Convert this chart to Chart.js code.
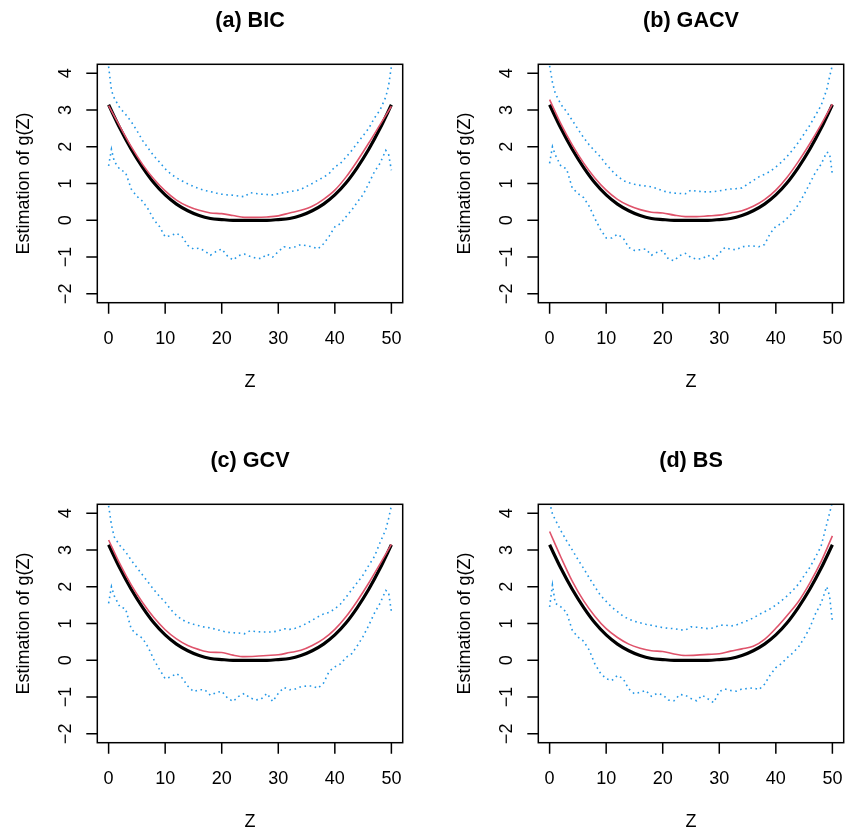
<!DOCTYPE html>
<html>
<head>
<meta charset="utf-8">
<script src="https://cdn.jsdelivr.net/npm/chart.js@4.4.1/dist/chart.umd.min.js"></script>
<style>
  body { margin: 0; background: #fff; width: 850px; height: 829px; overflow: hidden; position: relative; }
  .panel { position: absolute; width: 409px; height: 389px; }
</style>
</head>
<body>
<div class="panel" style="left:0;top:0"><canvas id="pa" width="409" height="389"></canvas></div>
<div class="panel" style="left:441px;top:0"><canvas id="pb" width="409" height="389"></canvas></div>
<div class="panel" style="left:0;top:440px"><canvas id="pc" width="409" height="389"></canvas></div>
<div class="panel" style="left:441px;top:440px"><canvas id="pd" width="409" height="389"></canvas></div>
<script>
// tick labels
const xTicks = [0, 10, 20, 30, 40, 50];
const yTicks = [-2, -1, 0, 1, 2, 3, 4];
const titles = ["(a) BIC", "(b) GACV", "(c) GCV", "(d) BS"];

// smooth curves: true g(Z) and the estimates
const zSmooth = [0, 2, 4, 6, 8, 10, 12, 14, 16, 18, 20, 22, 24, 26, 28, 30, 32, 34, 36, 38, 40, 42, 44, 46, 48, 50];
const gTrue = [3.14, 2.50, 1.93, 1.44, 1.02, 0.69, 0.44, 0.26, 0.13, 0.05, 0.02, 0.00, 0.00,
               0.00, 0.00, 0.02, 0.05, 0.13, 0.26, 0.44, 0.69, 1.02, 1.44, 1.93, 2.50, 3.14];
const estA = [3.12, 2.55, 2.00, 1.52, 1.12, 0.80, 0.55, 0.38, 0.27, 0.20, 0.18, 0.13, 0.08,
              0.08, 0.09, 0.12, 0.20, 0.27, 0.38, 0.57, 0.82, 1.18, 1.62, 2.10, 2.60, 3.10];
const estB = [3.28, 2.62, 2.05, 1.56, 1.15, 0.82, 0.57, 0.40, 0.29, 0.22, 0.20, 0.14, 0.10,
              0.10, 0.12, 0.14, 0.20, 0.26, 0.38, 0.56, 0.82, 1.17, 1.60, 2.08, 2.60, 3.16];
const estC = [3.27, 2.62, 2.05, 1.57, 1.16, 0.83, 0.58, 0.40, 0.29, 0.22, 0.21, 0.14, 0.10,
              0.11, 0.13, 0.15, 0.21, 0.27, 0.40, 0.58, 0.84, 1.19, 1.62, 2.10, 2.62, 3.15];
const estD = [3.50, 2.80, 2.15, 1.62, 1.20, 0.86, 0.62, 0.44, 0.33, 0.26, 0.24, 0.17, 0.13,
              0.14, 0.16, 0.18, 0.25, 0.31, 0.38, 0.57, 0.87, 1.22, 1.60, 2.10, 2.68, 3.38];

// pointwise bands
const zBand = [0, 0.5, 1, 2, 3, 4, 5, 6, 7, 8,
               9, 10, 11, 12, 13, 14, 15, 16, 17, 18,
               19, 20, 21, 22, 23, 24, 25, 26, 27, 28,
               29, 30, 31, 32, 33, 34, 35, 36, 37, 38,
               39, 40, 41, 42, 43, 44, 45, 46, 47, 48,
               49, 49.5, 50];
const upA = [4.18, 3.53, 3.32, 3.05, 2.88, 2.68, 2.44, 2.17, 1.96, 1.75,
             1.58, 1.40, 1.26, 1.15, 1.07, 0.99, 0.92, 0.86, 0.81, 0.78,
             0.74, 0.71, 0.69, 0.68, 0.66, 0.64, 0.75, 0.73, 0.71, 0.70,
             0.69, 0.72, 0.75, 0.78, 0.80, 0.84, 0.92, 1.00, 1.09, 1.17,
             1.27, 1.45, 1.55, 1.72, 1.90, 2.10, 2.30, 2.50, 2.78, 3.00,
             3.35, 3.65, 4.18];
const lowA = [1.48, 1.93, 1.60, 1.38, 1.30, 0.85, 0.65, 0.52, 0.30, 0.02,
              -0.17, -0.45, -0.42, -0.35, -0.45, -0.68, -0.78, -0.76, -0.83, -0.95,
              -0.85, -0.78, -0.97, -1.08, -0.96, -0.92, -0.98, -1.03, -1.04, -0.92,
              -1.00, -0.85, -0.72, -0.75, -0.72, -0.66, -0.69, -0.72, -0.78, -0.64,
              -0.43, -0.18, -0.09, 0.10, 0.28, 0.50, 0.70, 1.00, 1.32, 1.55,
              1.90, 1.80, 1.36];
const upB = [4.20, 3.75, 3.45, 3.15, 2.95, 2.72, 2.48, 2.25, 2.05, 1.88,
             1.72, 1.52, 1.35, 1.20, 1.08, 1.02, 0.98, 0.95, 0.93, 0.91,
             0.86, 0.80, 0.76, 0.74, 0.73, 0.72, 0.82, 0.79, 0.78, 0.77,
             0.78, 0.80, 0.83, 0.85, 0.86, 0.88, 0.98, 1.08, 1.18, 1.25,
             1.33, 1.45, 1.58, 1.74, 1.92, 2.12, 2.35, 2.58, 2.85, 3.12,
             3.55, 3.90, 4.22];
const lowB = [1.55, 2.00, 1.78, 1.47, 1.40, 0.88, 0.73, 0.62, 0.38, 0.05,
              -0.25, -0.48, -0.48, -0.38, -0.48, -0.74, -0.82, -0.80, -0.78, -0.95,
              -0.87, -0.82, -1.05, -1.10, -0.96, -0.90, -1.01, -1.06, -1.04, -0.95,
              -1.05, -0.90, -0.74, -0.79, -0.80, -0.72, -0.70, -0.70, -0.72, -0.66,
              -0.36, -0.16, -0.09, 0.06, 0.22, 0.43, 0.70, 1.00, 1.30, 1.52,
              1.85, 1.82, 1.25];
const upC = [4.20, 3.68, 3.35, 3.12, 2.95, 2.72, 2.52, 2.32, 2.12, 1.92,
             1.74, 1.58, 1.38, 1.22, 1.10, 1.03, 0.98, 0.94, 0.90, 0.88,
             0.84, 0.80, 0.76, 0.75, 0.74, 0.72, 0.80, 0.78, 0.77, 0.77,
             0.77, 0.80, 0.86, 0.84, 0.87, 0.93, 1.00, 1.09, 1.18, 1.26,
             1.30, 1.40, 1.53, 1.72, 1.92, 2.12, 2.32, 2.58, 2.82, 3.20,
             3.55, 3.85, 4.20];
const lowC = [1.55, 2.00, 1.75, 1.45, 1.40, 0.85, 0.70, 0.60, 0.35, 0.02,
              -0.25, -0.50, -0.45, -0.36, -0.48, -0.70, -0.85, -0.80, -0.80, -0.95,
              -0.88, -0.84, -1.02, -1.12, -0.98, -0.90, -1.02, -1.08, -1.05, -0.90,
              -1.12, -0.90, -0.74, -0.80, -0.78, -0.72, -0.70, -0.70, -0.76, -0.62,
              -0.30, -0.18, -0.10, 0.08, 0.18, 0.40, 0.65, 0.95, 1.28, 1.55,
              1.90, 1.85, 1.32];
const upD = [4.30, 3.98, 3.82, 3.52, 3.25, 3.00, 2.74, 2.50, 2.24, 2.00,
             1.76, 1.60, 1.44, 1.32, 1.20, 1.12, 1.06, 1.02, 0.98, 0.95,
             0.92, 0.89, 0.87, 0.86, 0.83, 0.82, 0.91, 0.90, 0.88, 0.86,
             0.88, 0.95, 0.96, 0.93, 0.96, 1.02, 1.08, 1.15, 1.24, 1.32,
             1.40, 1.50, 1.62, 1.75, 1.90, 2.07, 2.30, 2.52, 2.80, 3.10,
             3.70, 4.00, 4.30];
const lowD = [1.45, 2.05, 1.55, 1.45, 1.30, 0.82, 0.63, 0.52, 0.28, -0.10,
              -0.35, -0.50, -0.55, -0.41, -0.50, -0.78, -0.91, -0.87, -0.82, -0.98,
              -0.90, -0.94, -1.08, -1.10, -0.93, -0.95, -1.04, -1.10, -0.95, -1.05,
              -1.15, -0.85, -0.78, -0.82, -0.84, -0.78, -0.77, -0.75, -0.80, -0.65,
              -0.40, -0.20, -0.09, 0.07, 0.20, 0.36, 0.60, 0.88, 1.26, 1.55,
              2.00, 1.75, 1.05];

const FONT = '"Liberation Sans", Arial, Helvetica, sans-serif';

// R-style frame: box, outward ticks, rotated y labels
const rAxes = {
    id: 'rAxes',
    afterDraw(chart, args, opts) {
        const ctx = chart.ctx;
        const a = chart.chartArea;
        const xs = chart.scales.x, ys = chart.scales.y;
        ctx.save();
        ctx.strokeStyle = '#000';
        ctx.fillStyle = '#000';
        ctx.lineWidth = 1.5;
        ctx.strokeRect(a.left, a.top, a.right - a.left, a.bottom - a.top);

        ctx.beginPath();
        xTicks.forEach(t => {
            const px = xs.getPixelForValue(t);
            ctx.moveTo(px, a.bottom);
            ctx.lineTo(px, a.bottom + 11);
        });
        yTicks.forEach(t => {
            const py = ys.getPixelForValue(t);
            ctx.moveTo(a.left, py);
            ctx.lineTo(a.left - 11, py);
        });
        ctx.stroke();

        ctx.font = '18px ' + FONT;
        ctx.textAlign = 'center';
        ctx.textBaseline = 'alphabetic';
        xTicks.forEach(t => ctx.fillText(String(t), xs.getPixelForValue(t), a.bottom + 41));
        yTicks.forEach(t => {
            ctx.save();
            ctx.translate(a.left - 26.5, ys.getPixelForValue(t));
            ctx.rotate(-Math.PI / 2);
            ctx.fillText(t < 0 ? '\u2212' + Math.abs(t) : String(t), 0, 0);
            ctx.restore();
        });

        const cx = (a.left + a.right) / 2, cy = (a.top + a.bottom) / 2;
        ctx.fillText('Z', cx, a.bottom + 84);
        ctx.save();
        ctx.translate(28.5, cy);
        ctx.rotate(-Math.PI / 2);
        ctx.fillText('Estimation of g(Z)', 0, 0);
        ctx.restore();

        ctx.font = 'bold 21.6px ' + FONT;
        ctx.fillText(opts.title, cx, a.top - 37);
        ctx.restore();
    }
};

function pts(xv, yv) {
    return xv.map((x, i) => ({ x: x, y: yv[i] }));
}

function drawPanel(id, title, est, up, low) {
    const ctx = document.getElementById(id).getContext('2d');
    new Chart(ctx, {
        type: 'line',
        data: {
            datasets: [
                { data: pts(zSmooth, est), borderColor: '#DF536B', borderWidth: 1.6,
                  cubicInterpolationMode: 'monotone' },
                { data: pts(zSmooth, gTrue), borderColor: '#000000', borderWidth: 3.2,
                  cubicInterpolationMode: 'monotone' },
                { data: pts(zBand, up), borderColor: '#2297E6', borderWidth: 1.6,
                  borderDash: [1.6, 3.6], tension: 0 },
                { data: pts(zBand, low), borderColor: '#2297E6', borderWidth: 1.6,
                  borderDash: [1.6, 3.6], tension: 0 }
            ]
        },
        options: {
            responsive: false,
            animation: false,
            devicePixelRatio: 1,
            layout: { padding: { left: 97.3, top: 64.3, right: 6.3, bottom: 86.3 } },
            elements: { point: { radius: 0 } },
            scales: {
                x: { type: 'linear', min: -2, max: 52, display: false },
                y: { type: 'linear', min: -2.24, max: 4.24, display: false }
            },
            plugins: {
                legend: { display: false },
                tooltip: { enabled: false },
                rAxes: { title: title }
            }
        },
        plugins: [rAxes]
    });
}

drawPanel('pa', titles[0], estA, upA, lowA);
drawPanel('pb', titles[1], estB, upB, lowB);
drawPanel('pc', titles[2], estC, upC, lowC);
drawPanel('pd', titles[3], estD, upD, lowD);
</script>
</body>
</html>
